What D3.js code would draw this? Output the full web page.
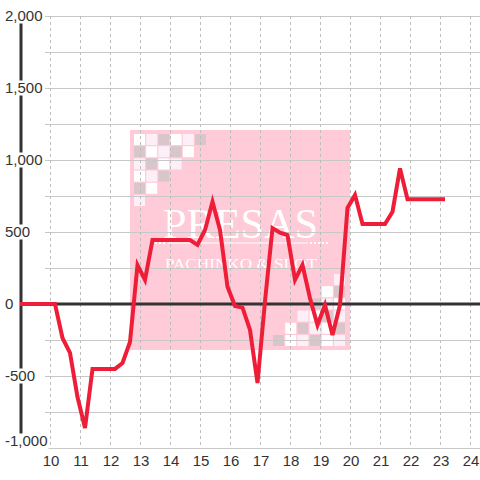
<!DOCTYPE html>
<html>
<head>
<meta charset="utf-8">
<script src="https://cdn.jsdelivr.net/npm/d3@7/dist/d3.min.js"></script>
<style>
  html, body { margin: 0; padding: 0; background: #fff; }
  svg { display: block; }
</style>
</head>
<body>
<svg id="chart" width="480" height="480"></svg>
<script>
// ---- data ----
const times = ["9:00","10:10","10:25","10:40","10:55","11:10","11:25","11:40","11:55","12:10","12:25","12:40","12:55",
  "13:10","13:25","13:40","13:55","14:10","14:25","14:40","14:55","15:10","15:25","15:40","15:55",
  "16:10","16:25","16:40","16:55","17:10","17:25","17:40","17:55","18:10","18:25","18:40","18:55",
  "19:10","19:25","19:40","19:55","20:10","20:25","20:40","20:55","21:10","21:25","21:40","21:55",
  "22:10","22:25","22:40","22:55","23:10"];
const values = [0,0,-236,-340,-646,-861,-451,-451,-451,-451,-410,-264,270,
  167,444,444,444,444,444,444,410,514,710,514,120,
  -14,-25,-180,-549,20,527,495,479,167,271,40,-146,
  -7,-215,-7,667,757,556,556,556,556,641,942,727,
  727,727,727,727,727];
const xTickLabels = [10,11,12,13,14,15,16,17,18,19,20,21,22,23,24];
const yTickLabels = [-1000,-500,0,500,1000,1500,2000];
const yGridValues = [-1000,-750,-500,-250,0,250,500,750,1000,1250,1500,1750,2000];

// ---- setup ----
const svg = d3.select("#chart");
const W = 480, H = 480;
const parseT = s => { const [h, m] = s.split(":").map(Number); return h + m / 60; };
const x = d3.scaleLinear().domain([9, 24]).range([20, 470]);
const y = d3.scaleLinear().domain([-1000, 2000]).range([448, 16]);
const fmt = d3.formatLocale({decimal: ".", thousands: ",", grouping: [3], currency: ["$", ""], minus: "-"}).format(",");
const data = times.map((t, i) => ({t: parseT(t), v: values[i]}));
const labelY = d => Math.min(y(d), 441);

// ---- watermark logo ----
const logo = svg.append("g").attr("class", "logo");
logo.append("rect").attr("x", 130).attr("y", 130).attr("width", 220).attr("height", 220).attr("fill", "#ffcbd9");
const cW = "#ffffff", cL = "#fdeff8", cG = "#d9c6ca";
const tl = [[cW,cL,cG,cW,cL,cG],[cG,cW,cL,cG,cW],[cL,cG,cW,cL],[cW,cL,cG],[cG,cW],[cL]];
tl.forEach((row, r) => row.forEach((c, k) => {
  logo.append("rect").attr("x", 134 + k * 12.2).attr("y", 134 + r * 12.2).attr("width", 11).attr("height", 11).attr("fill", c);
}));
const br = [[cL],[cW,cG],[cG,cL,cW],[cL,cW,cG,cL],[cW,cG,cL,cW,cG],[cG,cW,cL,cG,cW,cL]];
br.forEach((row, r) => row.forEach((c, k) => {
  const n = row.length;
  logo.append("rect").attr("x", 334 - (n - 1 - k) * 12.2).attr("y", 274 + r * 12.2).attr("width", 11).attr("height", 11).attr("fill", c);
}));
logo.append("text").attr("x", 163).attr("y", 238).attr("textLength", 155).attr("lengthAdjust", "spacingAndGlyphs")
  .attr("font-family", "Liberation Serif, DejaVu Serif, serif").attr("font-size", 43).attr("fill", "#fff").text("PRESAS");
logo.append("line").attr("x1", 168).attr("x2", 308).attr("y1", 243).attr("y2", 243).attr("stroke", "#fff").attr("stroke-width", 1.2);
logo.append("line").attr("x1", 155).attr("x2", 167).attr("y1", 243).attr("y2", 243).attr("stroke", "#fff").attr("stroke-width", 2).attr("stroke-dasharray", "2,2");
logo.append("line").attr("x1", 310).attr("x2", 328).attr("y1", 243).attr("y2", 243).attr("stroke", "#fff").attr("stroke-width", 2).attr("stroke-dasharray", "2,2");
logo.append("text").attr("x", 165).attr("y", 269).attr("textLength", 152).attr("lengthAdjust", "spacingAndGlyphs")
  .attr("font-family", "Liberation Serif, DejaVu Serif, serif").attr("font-size", 15).attr("fill", "#fff").text("PACHINKO & SLOT");

// ---- grid ----
svg.append("g").selectAll("line").data(yGridValues.filter(v => v !== 0)).join("line")
  .attr("x1", 45).attr("x2", W).attr("y1", d => Math.round(y(d)) + 0.5).attr("y2", d => Math.round(y(d)) + 0.5)
  .attr("stroke", "#c8c8c8").attr("stroke-width", 1);
svg.append("g").selectAll("line").data(xTickLabels).join("line")
  .attr("x1", d => Math.round(x(d)) + 0.5).attr("x2", d => Math.round(x(d)) + 0.5)
  .attr("y1", y(2000)).attr("y2", y(-1000))
  .attr("stroke", "#bdbdbd").attr("stroke-width", 1).attr("stroke-dasharray", "3,3");

// zero line
svg.append("line").attr("x1", 20).attr("x2", W).attr("y1", y(0)).attr("y2", y(0))
  .attr("stroke", "#333").attr("stroke-width", 3);
// y axis line
svg.append("line").attr("x1", 21).attr("x2", 21).attr("y1", y(2000)).attr("y2", y(-1000))
  .attr("stroke", "#333").attr("stroke-width", 3);

// y labels with white backgrounds
const yl = svg.append("g").selectAll("g").data(yTickLabels).join("g");
yl.append("rect").attr("x", 2).attr("y", d => labelY(d) - 7.5).attr("height", 15)
  .attr("width", d => fmt(d).length * 8.2 + 1).attr("fill", "#fff");
yl.append("text").attr("x", 5).attr("y", d => labelY(d)).attr("dy", "0.36em")
  .attr("font-family", "Liberation Sans, Arial, sans-serif").attr("font-size", 15).attr("fill", "#333")
  .text(d => fmt(d));
yl.each(function(d) {
  const g = d3.select(this);
  const bb = g.select("text").node().getBBox();
  g.select("rect").attr("x", bb.x - 1).attr("width", bb.width + 2)
    .attr("height", d === -1000 ? 20 : 15);
});

// x labels
svg.append("g").selectAll("text").data(xTickLabels).join("text")
  .attr("x", d => x(d) + 1).attr("y", 466).attr("text-anchor", "middle")
  .attr("font-family", "Liberation Sans, Arial, sans-serif").attr("font-size", 15).attr("fill", "#333")
  .text(d => d);

// ---- series line ----
const line = d3.line().x(d => x(d.t)).y(d => y(d.v));
svg.append("path").datum(data).attr("d", line).attr("fill", "none")
  .attr("stroke", "#ee1e38").attr("stroke-width", 4).attr("stroke-linejoin", "miter").attr("stroke-miterlimit", 4);
</script>
</body>
</html>
